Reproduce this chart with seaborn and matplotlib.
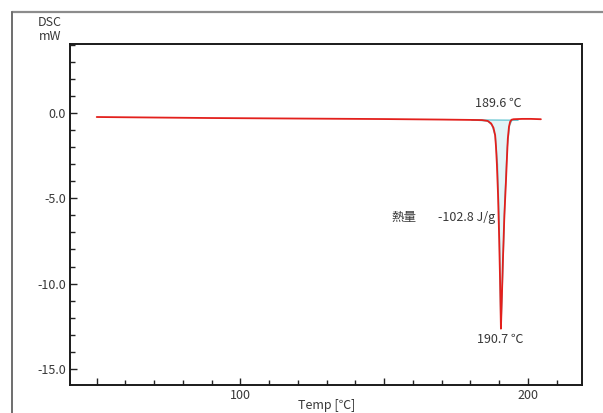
# DSC melting curve - single endothermic peak

import matplotlib
matplotlib.use("Agg")
import matplotlib.pyplot as plt
from matplotlib.lines import Line2D
import seaborn as sns
import pandas as pd

# measured curve (Temp [C], DSC [mW])
temp = [50, 70, 90, 110, 130, 150, 170, 180, 184, 186, 187.2, 188.0, 188.6,
        188.9, 189.2, 189.6, 190.0, 190.3, 190.6, 190.9, 191.3, 191.8, 192.3,
        192.7, 193.0, 193.4, 193.8, 194.3, 195, 198, 201, 204.5]
dsc = [-0.22, -0.25, -0.28, -0.30, -0.32, -0.34, -0.37, -0.39, -0.40, -0.45,
       -0.60, -0.85, -1.3, -2.0, -3.0, -4.8, -7.4, -9.8, -12.65, -11.0, -8.6,
       -6.0, -4.2, -2.6, -1.5, -0.8, -0.5, -0.38, -0.35, -0.33, -0.33, -0.35]

# integrated peak area (analysis trace) and its baseline
area_temp = [180.5, 186, 187.5, 188.6, 189.4, 190.0, 190.6, 191.2, 192.0,
             192.8, 193.6, 194.5, 196.5]
area_dsc = [-0.39, -0.45, -0.7, -1.3, -3.0, -6.5, -12.6, -9.5, -5.0, -2.0,
            -0.7, -0.38, -0.40]
base_temp = [180.5, 196.5]
base_dsc = [-0.39, -0.41]

onset_label = "189.6 ℃"
peak_label = "190.7 ℃"
heat_name = "熱量"
heat_value = "-102.8 J/g"

x_major = [50, 100, 150, 200]
x_minor = list(range(50, 220, 10))
y_major = [0.0, -5.0, -10.0, -15.0]
y_minor = list(range(-15, 5, 1))

sns.set_style("white")
plt.rcParams["font.family"] = ["Noto Sans CJK JP", "DejaVu Sans"]

curve = pd.DataFrame({"temp": temp, "dsc": dsc})
area = pd.DataFrame({"temp": area_temp, "dsc": area_dsc})

fig = plt.figure(figsize=(6.03, 4.13), dpi=100)
ax = fig.add_axes([70 / 603, 1 - 384.7 / 413, 511.7 / 603, 340.4 / 413])

ax.fill_between(area_temp, area_dsc, [-0.40] * len(area_temp),
                color="#e4f5f7", lw=0)
sns.lineplot(data=area, x="temp", y="dsc", ax=ax, color="#6cc8d3",
             lw=1.0, sort=False, estimator=None)
sns.lineplot(x=base_temp, y=base_dsc, ax=ax, color="#6cc8d3", lw=1.0,
             estimator=None)
sns.lineplot(data=curve, x="temp", y="dsc", ax=ax, color="#e3201c",
             lw=1.3, sort=False, estimator=None)

ax.set_xlim(40.7, 218.7)
ax.set_ylim(-15.94, 4.05)

ax.set_xticks(x_major)
ax.set_xticklabels(["", "100", "", "200"])
ax.set_xticks(x_minor, minor=True)
ax.set_yticks(y_major)
ax.set_yticklabels([f"{v:.1f}" for v in y_major])
ax.set_yticks(y_minor, minor=True)
ax.tick_params(which="major", direction="in", length=5, width=1,
               color="#222222", labelsize=9, labelcolor="#383838", pad=3)
ax.tick_params(which="minor", direction="in", length=3.5, width=1,
               color="#222222")
ax.tick_params(axis="x", which="both", bottom=True, top=False)
ax.tick_params(axis="y", which="both", left=True, right=False)

for s in ax.spines.values():
    s.set_color("#1a1a1a")
    s.set_linewidth(1.4)

ax.set_xlabel("")
ax.set_ylabel("")

txt = dict(color="#383838", fontsize=9)
ax.text(189.6, 0.6, onset_label, ha="center", va="center", **txt)
ax.text(152.7, -6.1, heat_name, ha="left", va="center", **txt)
ax.text(168.7, -6.1, heat_value, ha="left", va="center", **txt)
ax.text(190.3, -13.3, peak_label, ha="center", va="center", **txt)

fig.text(50 / 603, 1 - 22 / 413, "DSC", ha="center", va="center", **txt)
fig.text(50 / 603, 1 - 37 / 413, "mW", ha="center", va="center", **txt)
fig.text(327 / 603, 1 - 405 / 413, "Temp [℃]", ha="center", va="center",
         **txt)

# outer frame of the report panel
fig.add_artist(Line2D([12 / 603, 1], [1 - 12 / 413] * 2,
                      transform=fig.transFigure, color="#8c8c8c", lw=1.6))
fig.add_artist(Line2D([12 / 603] * 2, [0, 1 - 12 / 413],
                      transform=fig.transFigure, color="#6e6e6e", lw=1.4))

fig.savefig("out.png", dpi=100)
